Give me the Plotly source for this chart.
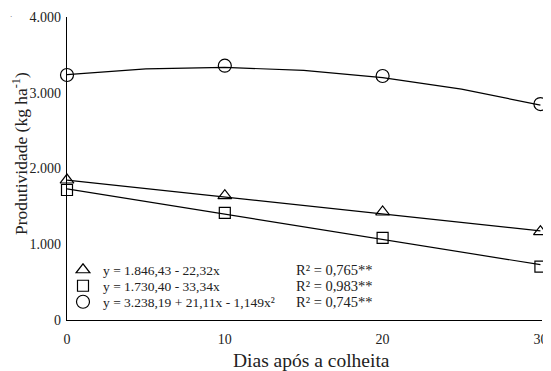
import plotly.graph_objects as go

# Observed data
dias = [0, 10, 20, 30]
prod_tri = [1848, 1641, 1426, 1166]
prod_sq = [1716, 1413, 1083, 704]
prod_circ = [3234, 3357, 3221, 2851]

fit_x_lin = [0, 30]
fit_tri = [1846, 1177]
fit_sq = [1730, 730]
fit_x_quad = [0, 5, 10, 15, 20, 25, 30]
fit_circ = [3238, 3315, 3334, 3296, 3200, 3047, 2837]

names = ["y = 1.846,43 - 22,32x", "y = 1.730,40 - 33,34x", "y = 3.238,19 + 21,11x - 1,149x²"]
r2_labels = ["R² = 0,765**", "R² = 0,983**", "R² = 0,745**"]

x_ticks = [0, 10, 20, 30]
y_ticks = [0, 1000, 2000, 3000, 4000]
y_tick_text = ["0", "1.000", "2.000", "3.000", "4.000"]

x_title = "Dias após a colheita"
y_title = "Produtividade (kg ha<sup>-1</sup>)"

FONT = "Liberation Serif"
TXT = "#222"
fig = go.Figure()

series = [
    (prod_tri, fit_x_lin, fit_tri, "triangle-up-open", 12),
    (prod_sq, fit_x_lin, fit_sq, "square-open", 11),
    (prod_circ, fit_x_quad, fit_circ, "circle-open", 13),
]
legend_ids = ["legend", "legend2", "legend3"]
for i, (obs, fx, fy, sym, sz) in enumerate(series):
    fig.add_trace(go.Scatter(x=fx, y=fy, mode="lines", line=dict(color="black", width=1.2),
                             showlegend=False, hoverinfo="skip", cliponaxis=False))
    fig.add_trace(go.Scatter(x=dias, y=obs, mode="markers", name=names[i], legend=legend_ids[i],
                             marker=dict(symbol=sym, size=sz, color="black", line=dict(width=1.2, color="black")),
                             cliponaxis=False))

# page is offset by the 8px body margin; plot area in page: x 67..542, y 17..320
PW, PH = 475, 303
def px(x):
    return (x - 67) / PW
def py(y):
    return (320 - y) / PH

rows_y = [270, 286, 302]
for lab, ry in zip(r2_labels, rows_y):
    fig.add_annotation(text=lab, xref="paper", yref="paper", x=px(294), y=py(ry),
                       xanchor="left", yanchor="middle", showarrow=False,
                       font=dict(family=FONT, size=14.5, color=TXT))

# axis titles as annotations (positioned as in the reference)
fig.add_annotation(text=x_title, xref="paper", yref="paper", x=px(311), y=py(360),
                   xanchor="center", yanchor="middle", showarrow=False,
                   font=dict(family=FONT, size=19.5, color=TXT))
fig.add_annotation(text=y_title, xref="paper", yref="paper", x=px(20), y=py(154),
                   xanchor="center", yanchor="middle", showarrow=False, textangle=-90,
                   font=dict(family=FONT, size=17.5, color=TXT))
fig.add_annotation(text="·", xref="paper", yref="paper", x=px(11), y=py(17),
                   xanchor="center", yanchor="middle", showarrow=False,
                   font=dict(family=FONT, size=7, color=TXT))

leg_common = dict(xanchor="left", yanchor="middle", bgcolor="rgba(0,0,0,0)",
                  font=dict(family=FONT, size=13.5, color=TXT), itemwidth=30)
legends = {}
for lid, ry in zip(legend_ids, rows_y):
    legends[lid] = dict(x=px(63), y=py(ry), **leg_common)

fig.update_layout(
    width=543, height=363,
    margin=dict(l=59, r=9, t=9, b=51),
    paper_bgcolor="white", plot_bgcolor="white",
    font=dict(family=FONT, size=14, color=TXT),
    showlegend=True,
    **legends,
    xaxis=dict(range=[0, 30.1], tickvals=x_ticks, showline=True, linecolor="black", linewidth=1.2,
               showgrid=False, zeroline=False, ticks="", ticklabelstandoff=6, automargin=False,
               tickfont=dict(family=FONT, size=14, color=TXT)),
    yaxis=dict(range=[0, 4000], tickvals=y_ticks, ticktext=y_tick_text, showline=True, linecolor="black",
               linewidth=1.2, showgrid=False, zeroline=False, ticks="", ticklabelstandoff=2, automargin=False,
               tickfont=dict(family=FONT, size=14, color=TXT)),
)

fig.write_html("out.html")
